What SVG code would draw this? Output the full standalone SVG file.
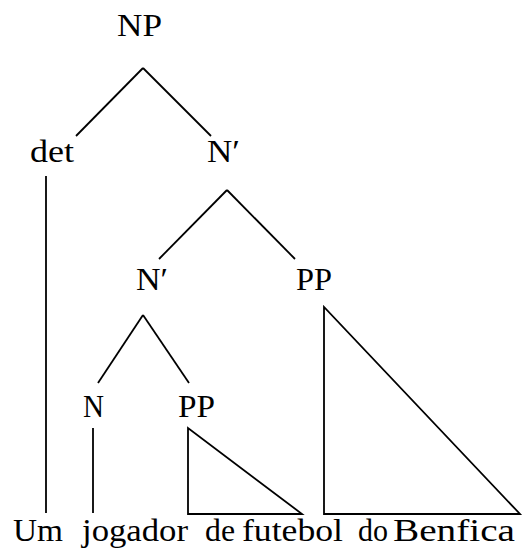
<svg xmlns="http://www.w3.org/2000/svg" width="523" height="550" viewBox="0 0 523 550">
<style>
.t{font-family:"Liberation Serif","Times New Roman",serif;font-size:32px;fill:#000}
.e{stroke:#000;stroke-width:1.8;fill:none;stroke-linecap:butt;stroke-linejoin:miter}
</style>
<rect width="523" height="550" fill="#fff"/>
<g id="connectors">
<line class="e" x1="143" y1="68" x2="76" y2="136"/>
<line class="e" x1="143" y1="68" x2="211" y2="136"/>
<line class="e" x1="46" y1="176" x2="46" y2="513"/>
<line class="e" x1="227" y1="190" x2="159" y2="259"/>
<line class="e" x1="227" y1="190" x2="295" y2="259"/>
<line class="e" x1="143" y1="315" x2="98" y2="383"/>
<line class="e" x1="143" y1="315" x2="189" y2="383"/>
<line class="e" x1="93" y1="428" x2="93" y2="513"/>
<polygon class="e" points="188,428 188,514 302,514"/>
<polygon class="e" points="324,307 324,514 520,514"/>
</g>
<g class="t">
<g id="NP"><text x="117" y="36" textLength="45" lengthAdjust="spacingAndGlyphs">NP</text></g>
<g id="det"><text x="30" y="162" textLength="44" lengthAdjust="spacingAndGlyphs">det</text></g>
<g id="Nbar1"><text x="207" y="162" textLength="33" lengthAdjust="spacingAndGlyphs">N′</text></g>
<g id="Nbar2"><text x="136" y="290" textLength="32" lengthAdjust="spacingAndGlyphs">N′</text></g>
<g id="PP1"><text x="296" y="290" textLength="36" lengthAdjust="spacingAndGlyphs">PP</text></g>
<g id="N"><text x="83" y="417" textLength="21" lengthAdjust="spacingAndGlyphs">N</text></g>
<g id="PP2"><text x="178" y="417" textLength="37" lengthAdjust="spacingAndGlyphs">PP</text></g>
<g id="leaves">
<text x="13" y="541" textLength="50" lengthAdjust="spacingAndGlyphs">Um</text>
<text x="82" y="541" textLength="106" lengthAdjust="spacingAndGlyphs">jogador</text>
<text x="205" y="541" textLength="30" lengthAdjust="spacingAndGlyphs">de</text>
<text x="242" y="541" textLength="101" lengthAdjust="spacingAndGlyphs">futebol</text>
<text x="358" y="541" textLength="30" lengthAdjust="spacingAndGlyphs">do</text>
<text x="393" y="541" textLength="122" lengthAdjust="spacingAndGlyphs">Benfica</text>
</g>
</g>
</svg>
